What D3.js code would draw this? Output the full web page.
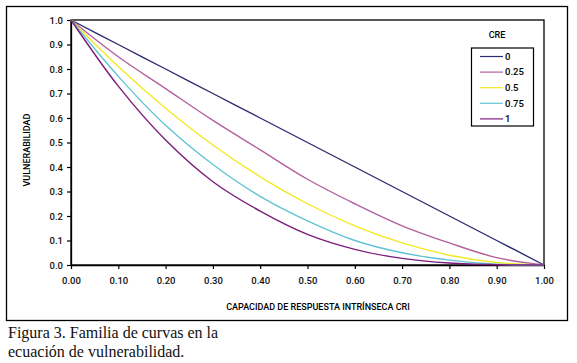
<!DOCTYPE html>
<html>
<head>
<meta charset="utf-8">
<script src="https://cdn.jsdelivr.net/npm/d3@7"></script>
<style>
  body { margin: 0; background: #fff; }
</style>
</head>
<body>
<script>
// Data
var cri = [0, 0.1, 0.2, 0.3, 0.4, 0.5, 0.6, 0.7, 0.8, 0.9, 1.0];
var creLabels = ["0", "0.25", "0.5", "0.75", "1"];
var v0    = [1, 0.90, 0.80, 0.70, 0.60, 0.50, 0.40, 0.30, 0.20, 0.10, 0];
var v025  = [1, 0.85, 0.72, 0.59, 0.47, 0.35, 0.25, 0.16, 0.09, 0.03, 0];
var v05   = [1, 0.81, 0.64, 0.49, 0.36, 0.25, 0.16, 0.09, 0.04, 0.01, 0];
var v075  = [1, 0.77, 0.57, 0.41, 0.28, 0.18, 0.10, 0.05, 0.02, 0.003, 0];
var v1    = [1, 0.73, 0.51, 0.34, 0.22, 0.125, 0.064, 0.027, 0.008, 0.001, 0];
var yTicks = [0, 0.1, 0.2, 0.3, 0.4, 0.5, 0.6, 0.7, 0.8, 0.9, 1.0];
var xTicks = [0, 0.1, 0.2, 0.3, 0.4, 0.5, 0.6, 0.7, 0.8, 0.9, 1.0];
var colors = ["#2c2b70", "#b4609e", "#f3e824", "#62c3d7", "#7c1d7c"];

var series = [v0, v025, v05, v075, v1];

var sans = "Roboto, 'Liberation Sans', sans-serif";

var svgWidth = 577, svgHeight = 363;
var margin = { top: 20, right: 33, bottom: 98, left: 71 };
var width = 544 - margin.left;
var height = 265 - margin.top;

var svg = d3.select("body").append("svg")
  .attr("width", svgWidth)
  .attr("height", svgHeight);

// outer frame
svg.append("rect")
  .attr("x", 6.5).attr("y", 6.5)
  .attr("width", 561).attr("height", 314)
  .attr("fill", "none").attr("stroke", "#000").attr("stroke-width", 1.3);

var chartGroup = svg.append("g")
  .attr("transform", `translate(${margin.left}, ${margin.top})`);

var x = d3.scaleLinear().domain([0, 1]).range([0, width]);
var y = d3.scaleLinear().domain([0, 1]).range([height, 0]);

// plot frame
chartGroup.append("rect")
  .attr("width", width).attr("height", height)
  .attr("fill", "none").attr("stroke", "#000").attr("stroke-width", 1.3);

var bottomAxis = d3.axisBottom(x).tickValues(xTicks).tickFormat(d3.format(".2f")).tickSize(4).tickSizeOuter(0);
var leftAxis = d3.axisLeft(y).tickValues(yTicks).tickFormat(d3.format(".1f")).tickSize(4).tickSizeOuter(0);

var xAxis = chartGroup.append("g")
  .attr("transform", `translate(0, ${height})`)
  .call(bottomAxis);
var yAxis = chartGroup.append("g").call(leftAxis);

[xAxis, yAxis].forEach(function (a) {
  a.select(".domain").attr("stroke-width", 1.3);
  a.selectAll(".tick line").attr("stroke-width", 1.2);
  a.selectAll("text")
    .attr("font-family", sans)
    .attr("font-weight", 500)
    .attr("font-size", 9.5)
    .attr("fill", "#111");
});
xAxis.selectAll("text").attr("dy", "1.3em");
yAxis.selectAll("text").attr("x", -8);

var line = d3.line()
  .x(function (d, i) { return x(cri[i]); })
  .y(function (d) { return y(d); })
  .curve(d3.curveCatmullRom);

chartGroup.selectAll(".curve")
  .data(series)
  .enter().append("path")
  .attr("class", "curve")
  .attr("d", line)
  .attr("fill", "none")
  .attr("stroke", function (d, i) { return colors[i]; })
  .attr("stroke-width", 1.4);

// axis titles
svg.append("text")
  .attr("x", 318).attr("y", 310)
  .attr("text-anchor", "middle")
  .attr("font-family", sans).attr("font-weight", 500)
  .attr("font-size", 9)
  .text("CAPACIDAD DE RESPUESTA INTRÍNSECA CRI");

svg.append("text")
  .attr("transform", "translate(30, 150) rotate(-90)")
  .attr("text-anchor", "middle")
  .attr("font-family", sans).attr("font-weight", 500)
  .attr("font-size", 9)
  .text("VULNERABILIDAD");

// legend
svg.append("text")
  .attr("x", 497).attr("y", 38)
  .attr("text-anchor", "middle")
  .attr("font-family", sans).attr("font-weight", 500)
  .attr("font-size", 9)
  .text("CRE");

var legend = svg.append("g");
legend.append("rect")
  .attr("x", 471.5).attr("y", 48)
  .attr("width", 62).attr("height", 78)
  .attr("fill", "#fff").attr("stroke", "#000").attr("stroke-width", 1.2);

var items = legend.selectAll(".item")
  .data(creLabels)
  .enter().append("g")
  .attr("transform", function (d, i) { return `translate(480, ${56.5 + i * 15.6})`; });
items.append("line")
  .attr("x1", 0).attr("x2", 23)
  .attr("stroke", function (d, i) { return colors[i]; })
  .attr("stroke-width", 1.2);
items.append("text")
  .attr("x", 25).attr("dy", "0.35em")
  .attr("font-family", sans).attr("font-weight", 500)
  .attr("font-size", 9.5)
  .text(function (d) { return d; });

// caption
var caption = svg.append("text")
  .attr("font-family", "'Liberation Serif', 'DejaVu Serif', serif")
  .attr("font-size", 16)
  .attr("fill", "#111");
caption.append("tspan").attr("x", 8).attr("y", 338).text("Figura 3. Familia de curvas en la");
caption.append("tspan").attr("x", 8).attr("y", 357).text("ecuación de vulnerabilidad.");
</script>
</body>
</html>
